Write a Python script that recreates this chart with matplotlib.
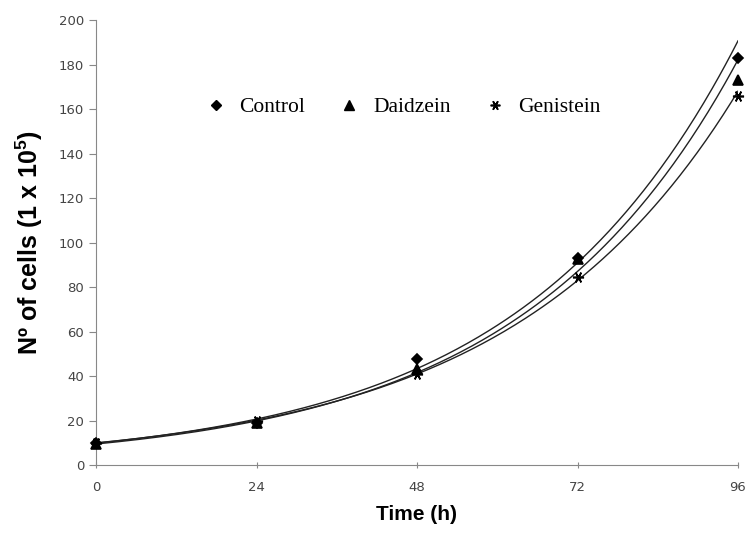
import matplotlib
matplotlib.use("Agg")
import matplotlib.pyplot as plt
import numpy as np
from matplotlib.lines import Line2D

time_h = [0, 24, 48, 72, 96]
control = [10, 19, 47.5, 93, 183]
daidzein = [9.5, 19, 43, 92.5, 173]
genistein = [10, 20, 41, 84.5, 166]

series = [
    ("Control", control, "D", 5),
    ("Daidzein", daidzein, "^", 7),
    ("Genistein", genistein, (6, 2, 90), 8),
]

plt.rcParams["mathtext.fontset"] = "custom"
plt.rcParams["mathtext.bf"] = "Liberation Sans:bold"
plt.rcParams["mathtext.rm"] = "Liberation Sans"

fig = plt.figure(figsize=(7.5, 5.34), dpi=100)
ax = fig.add_axes([0.128, 0.129, 0.856, 0.8335])

x = np.array(time_h, dtype=float)
xs = np.linspace(0, 96, 300)
for name, vals, marker, ms in series:
    # excel-style exponential trend line
    b, ln_a = np.polyfit(x, np.log(vals), 1)
    ax.plot(xs, np.exp(ln_a) * np.exp(b * xs), color="#222222", lw=1.0, zorder=2)
    ax.plot(x, vals, linestyle="none", marker=marker, markersize=ms,
            color="black", markeredgewidth=1.2, zorder=3, clip_on=False)

ax.set_xlim(0, 96)
ax.set_ylim(0, 200)
ax.set_xticks(time_h)
ax.set_yticks(range(0, 201, 20))

for side in ["top", "right"]:
    ax.spines[side].set_visible(False)
for side in ["left", "bottom"]:
    ax.spines[side].set_color("#888888")
    ax.spines[side].set_linewidth(0.8)
ax.tick_params(axis="both", colors="#888888", labelcolor="#444444",
               labelsize=9.5, length=5, width=0.8)
ax.tick_params(axis="x", direction="inout", pad=9)

ax.set_ylabel(r"Nº of cells (1 x 10$^{\mathbf{5}}$)", family="Liberation Sans",
              fontweight="bold", fontsize=18, labelpad=10)
ax.set_xlabel("Time (h)", family="Liberation Sans", fontweight="bold",
              fontsize=15, labelpad=8)

handles = [
    Line2D([], [], linestyle="none", marker="D", markersize=5, color="black"),
    Line2D([], [], linestyle="none", marker="^", markersize=7, color="black"),
    Line2D([], [], linestyle="none", marker=(6, 2, 90), markersize=7,
           color="black", markeredgewidth=1.2),
]
ax.legend(handles, ["Control", "Daidzein", "Genistein"], ncol=3,
          loc="center", bbox_to_anchor=(0.478, 0.804), frameon=False,
          prop={"family": "Liberation Serif", "size": 15.5},
          handletextpad=0.6, columnspacing=1.55, handlelength=1.0)

fig.savefig("out.png", dpi=100)
